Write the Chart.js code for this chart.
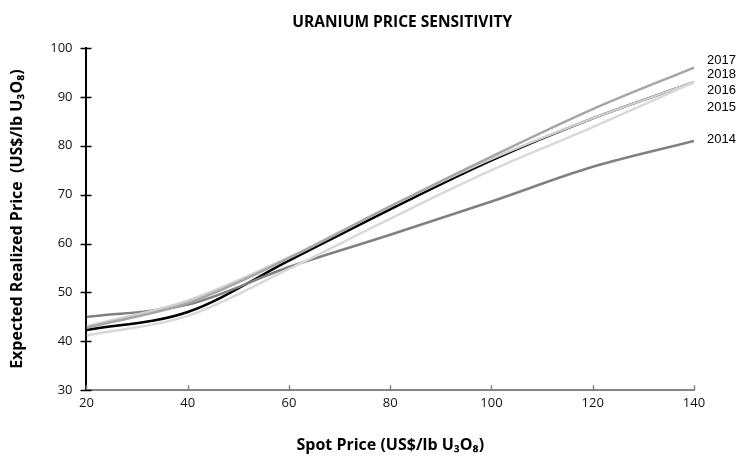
<!DOCTYPE html>
<html>
<head>
<meta charset="utf-8">
<script src="https://cdn.jsdelivr.net/npm/chart.js@4"></script>
<style>
  html, body { margin: 0; padding: 0; background: #fff; }
  #wrap { width: 745px; height: 456px; }
</style>
</head>
<body>
<div id="wrap"><canvas id="chart"></canvas></div>
<script>
// spot price (US$/lb U3O8)
const spotPrices = [20, 40, 60, 80, 100, 120, 140];
const yTicks = [30, 40, 50, 60, 70, 80, 90, 100];

// expected realized price per outlook year
const y2014 = [45.0, 47.5, 55.2, 61.8, 68.6, 75.7, 81.0];
const y2015 = [41.2, 45.2, 54.8, 65.1, 75.0, 83.8, 93.0];
const y2016 = [43.1, 48.3, 57.2, 67.6, 77.3, 85.6, 93.0];
const y2017 = [42.8, 47.8, 57.0, 67.6, 77.8, 87.5, 96.0];
const y2018 = [42.3, 46.0, 56.5, 67.0, 77.0, 85.6, 93.0];

// where the year labels sit on the right (in price units)
const labelOrder = ['2017', '2018', '2016', '2015', '2014'];
const labelValues = [97.5, 94.6, 91.3, 87.8, 81.2];

const chartTitle = 'URANIUM PRICE SENSITIVITY';

const toPoints = arr => arr.map((v, i) => ({ x: spotPrices[i], y: v }));

const series = [
  { label: '2017', data: y2017, color: '#a6a6a6' },
  { label: '2015', data: y2015, color: '#d9d9d9' },
  { label: '2016', data: y2016, color: '#cfcfcf' },
  { label: '2014', data: y2014, color: '#808080' },
  { label: '2018', data: y2018, color: '#000000' }
];

// title, x ticks pointing up into the plot, y ticks crossing the axis, year labels
const extras = {
  id: 'extras',
  afterDraw(chart) {
    const ctx = chart.ctx;
    const xs = chart.scales.x, ys = chart.scales.y;
    const area = chart.chartArea;
    ctx.save();
    ctx.fillStyle = '#000';
    ctx.font = 'bold 15.5px "Open Sans", sans-serif';
    ctx.textAlign = 'center';
    ctx.textBaseline = 'middle';
    ctx.fillText(chartTitle, (area.left + area.right) / 2 + 12, 23);

    ctx.strokeStyle = '#868686';
    ctx.lineWidth = 1.5;
    spotPrices.forEach(v => {
      const px = Math.round(xs.getPixelForValue(v)) + 0.5;
      ctx.beginPath();
      ctx.moveTo(px, area.bottom);
      ctx.lineTo(px, area.bottom - 5);
      ctx.stroke();
    });
    ctx.strokeStyle = '#000';
    yTicks.forEach(v => {
      const py = Math.round(ys.getPixelForValue(v)) + 0.5;
      ctx.beginPath();
      ctx.moveTo(area.left - 6, py);
      ctx.lineTo(area.left + 5, py);
      ctx.stroke();
    });
    ctx.font = '13px "Liberation Sans", Arial, sans-serif';
    ctx.textAlign = 'left';
    labelOrder.forEach((lab, i) => {
      ctx.fillText(lab, area.right + 13, ys.getPixelForValue(labelValues[i]));
    });
    ctx.restore();
  }
};

new Chart(document.getElementById('chart'), {
  type: 'line',
  data: {
    datasets: series.map(s => ({
      label: s.label,
      data: toPoints(s.data),
      borderColor: s.color,
      backgroundColor: s.color,
      borderWidth: 2.5,
      pointRadius: 0,
      cubicInterpolationMode: 'monotone',
      fill: false
    }))
  },
  options: {
    responsive: true,
    maintainAspectRatio: false,
    animation: false,
    layout: { padding: { left: 8, right: 51, top: 48, bottom: 1 } },
    plugins: {
      legend: { display: false },
      tooltip: { enabled: false },
      title: { display: false }
    },
    scales: {
      x: {
        type: 'linear',
        min: 20,
        max: 140,
        grid: { display: false, drawTicks: false },
        border: { display: true, color: '#868686', width: 2 },
        ticks: {
          stepSize: 20,
          color: '#111',
          padding: 5,
          font: { family: '"Open Sans", sans-serif', size: 13 }
        },
        title: {
          display: true,
          text: 'Spot Price (US$/lb U₃O₈)',
          color: '#000',
          font: { family: '"Open Sans", sans-serif', size: 16, weight: 'bold' },
          padding: { top: 20, bottom: 0 }
        }
      },
      y: {
        min: 30,
        max: 100,
        grid: { display: false, drawTicks: false },
        border: { display: true, color: '#000', width: 2 },
        ticks: {
          stepSize: 10,
          color: '#111',
          padding: 14,
          font: { family: '"Open Sans", sans-serif', size: 13 }
        },
        title: {
          display: true,
          text: 'Expected Realized Price  (US$/lb U₃O₈)',
          color: '#000',
          font: { family: '"Open Sans", sans-serif', size: 16, weight: 'bold' },
          padding: { top: 0, bottom: 9 }
        }
      }
    }
  },
  plugins: [extras]
});
</script>
</body>
</html>
